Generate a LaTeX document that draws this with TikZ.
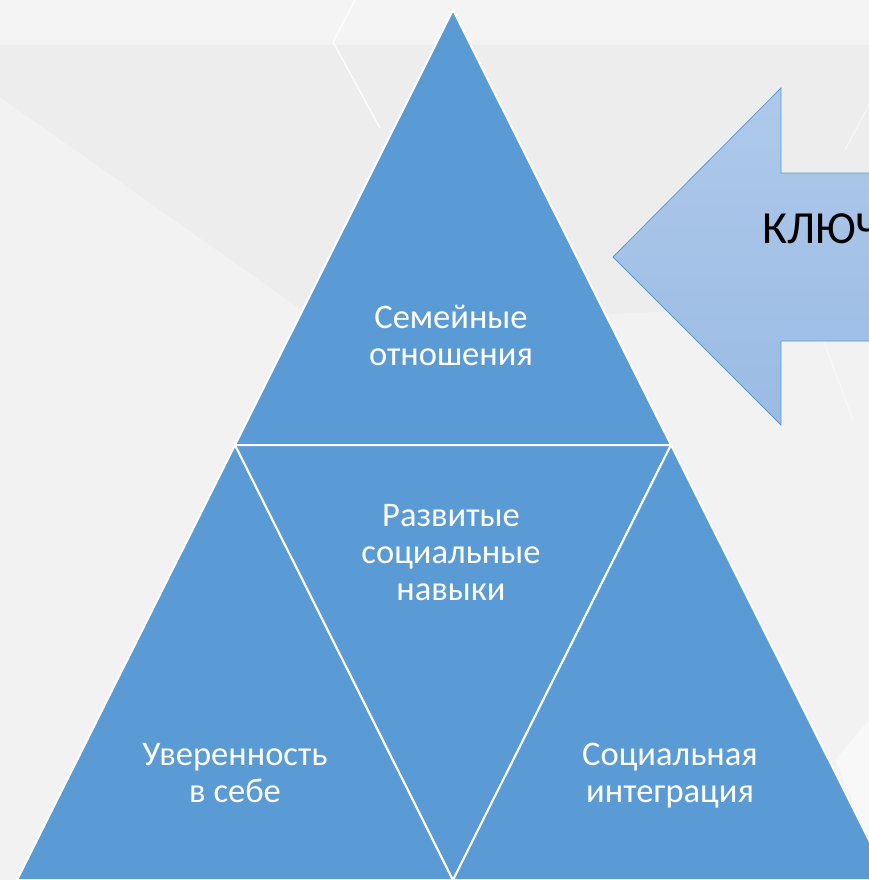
\documentclass[tikz,border=0pt]{standalone}
\usepackage{fontspec}
\setmainfont{Carlito}

\definecolor{pyrblue}{HTML}{5B9BD5}
\definecolor{arrowtop}{HTML}{AEC9EA}
\definecolor{arrowbot}{HTML}{9BBBE4}
\definecolor{bggray}{HTML}{F2F2F2}

\begin{document}
\begin{tikzpicture}[x=1pt, y=-1pt,
    piece/.style={fill=pyrblue, draw=white, line width=2pt, line join=miter},
    piecetext/.style={text=white, align=center, font=\fontsize{34.5}{37}\selectfont}]

    % Page frame and background
    \useasboundingbox (0,0) rectangle (869,880);
    \fill[bggray] (0,0) rectangle (869,880);

    % Faint background pattern
    \fill[black, opacity=0.018] (0,45) -- (869,45) -- (869,300) -- (330,330) -- (0,97) -- cycle;
    \fill[white, opacity=0.2] (0,0) rectangle (869,40);
    \draw[white, line width=1.5pt, opacity=0.8] (355,0) -- (333,42) -- (380,128);
    \draw[white, line width=1.2pt, opacity=0.5] (869,105) -- (845,150);
    \draw[white, line width=1.2pt, opacity=0.5] (817,323) -- (853,420);
    \fill[white, opacity=0.5] (835,760) -- (869,720) -- (869,840) -- cycle;

    % Vertices of the big triangle and the middle row
    \coordinate (T) at (453,10);
    \coordinate (ML) at (235,445);
    \coordinate (MR) at (671,445);
    \coordinate (BL) at (17,880);
    \coordinate (BM) at (453,880);
    \coordinate (BR) at (889,880);

    % The four pieces of the pyramid
    \draw[piece] (T) -- (ML) -- (MR) -- cycle;
    \draw[piece] (ML) -- (BL) -- (BM) -- cycle;
    \draw[piece] (ML) -- (MR) -- (BM) -- cycle;
    \draw[piece] (MR) -- (BR) -- (BM) -- cycle;

    % Texts of the pieces
    \node[piecetext] (family) at (451,335) {Семейные\\отношения};
    \node[piecetext] (skills) at (451,553) {Развитые\\социальные\\навыки};
    \node[piecetext] (confidence) at (235,773) {Уверенность\\в себе};
    \node[piecetext] (integration) at (670,776) {Социальная\\интеграция};

    % Arrow pointing to the pyramid
    \coordinate (tip) at (613,257);
    \coordinate (headtop) at (781,88);
    \coordinate (headbot) at (781,425);
    \draw[draw=pyrblue, line width=0.8pt, top color=arrowtop, bottom color=arrowbot]
        (tip) -- (headtop) -- (781,173) -- (900,173) -- (900,341)
        -- (781,341) -- (headbot) -- cycle;
    \node[anchor=base west, inner sep=0pt, font=\fontsize{46}{50}\selectfont] (key) at (762,243) {КЛЮЧ};

\end{tikzpicture}
\end{document}
